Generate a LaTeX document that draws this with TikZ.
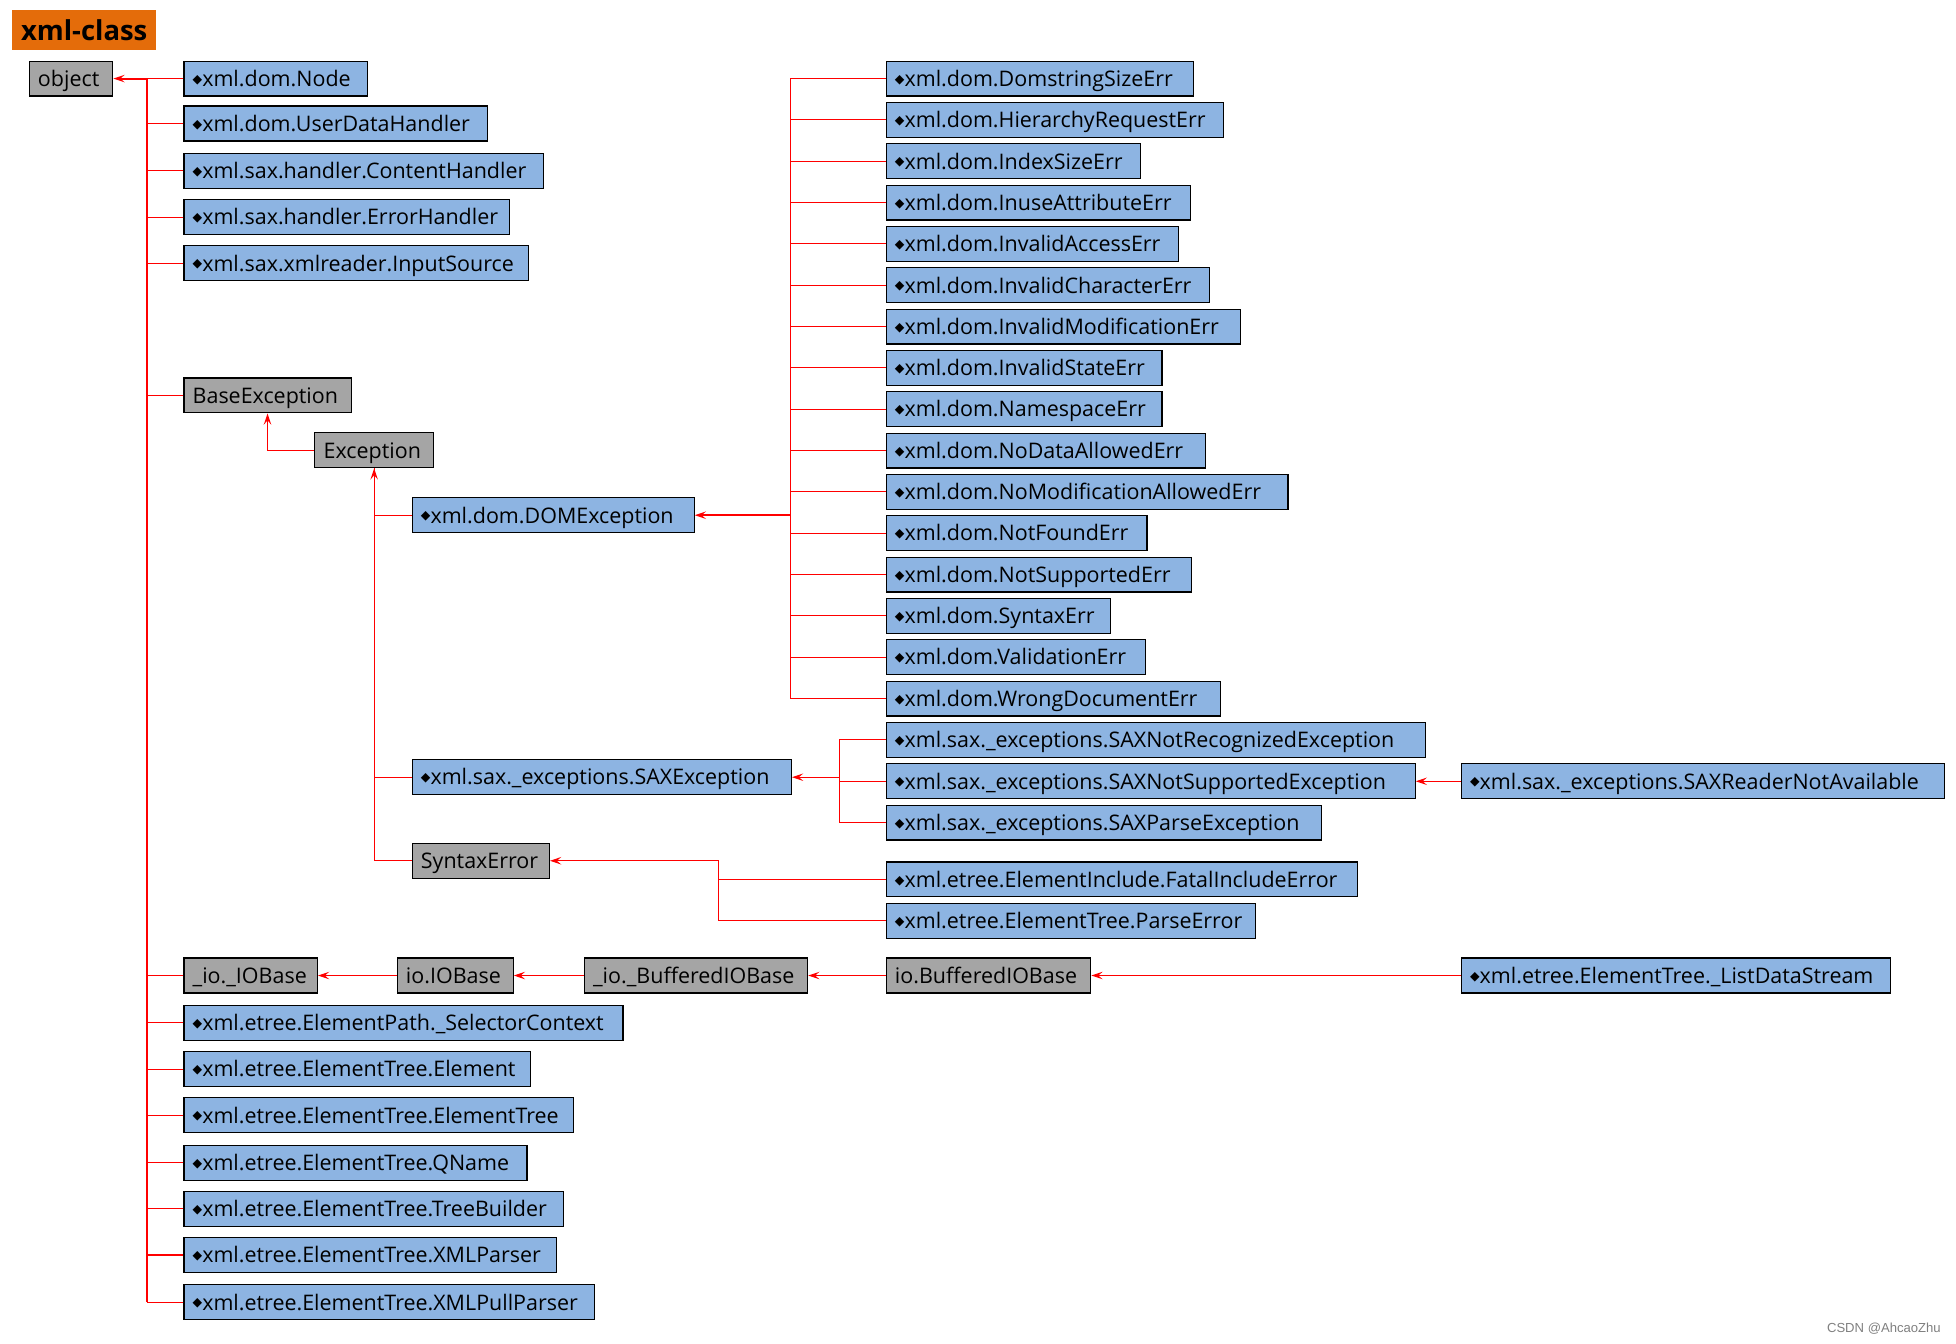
\documentclass[tikz,border=0pt]{standalone}
\usepackage{fontspec}
\usetikzlibrary{arrows.meta}
\newfontfamily\boxfont{Open Sans}
\newfontfamily\symfont{DejaVu Sans}
\newfontfamily\wmfont{Liberation Sans}
\definecolor{boxblue}{HTML}{8DB4E2}
\definecolor{boxgray}{HTML}{A5A5A5}
\definecolor{titleorange}{HTML}{E46C0A}
\definecolor{lnred}{HTML}{FF0000}
\newcommand\dia{{\symfont\fontsize{10}{10}\selectfont\raisebox{2.6pt}{◆}}}
\tikzset{
  boxbase/.style={draw=black, line width=0.9pt, anchor=west, minimum height=28pt,
    inner xsep=7pt, inner ysep=0pt, align=left, text height=14pt, text depth=1.5pt,
    font=\boxfont\fontsize{17.2}{21}\selectfont},
  bb/.style={boxbase, fill=boxblue},
  gb/.style={boxbase, fill=boxgray},
  conn/.style={draw=lnred, line width=0.9pt},
  arr/.style={conn, -{Stealth[length=9pt,width=6pt,inset=3.5pt]}},
  thickarr/.style={arr, line width=1.5pt},
}
\newcommand\BB[5]{\pgfmathsetmacro\tw{#4-14}\node[bb, text width=\tw pt] (#1) at (#2,#3) {\dia#5};}
\newcommand\GB[5]{\pgfmathsetmacro\tw{#4-14}\node[gb, text width=\tw pt] (#1) at (#2,#3) {#5};}
\begin{document}
\begin{tikzpicture}[x=1pt,y=-1pt]
\useasboundingbox (0,0) rectangle (1568,1077);
\fill[white] (0,0) rectangle (1568,1077);
% title
\node[fill=titleorange, minimum width=115pt, minimum height=32pt, inner sep=0pt,
  font=\boxfont\bfseries\fontsize{22}{25}\selectfont] (title) at (67.5,24) {xml-class};
% root
\GB{object}{23}{63}{67}{object}
% left column
\BB{node}{147}{63}{147}{xml.dom.Node}
\BB{udh}{147}{99}{243}{xml.dom.UserDataHandler}
\BB{ch}{147}{137}{288}{xml.sax.handler.ContentHandler}
\BB{eh}{147}{174}{261}{xml.sax.handler.ErrorHandler}
\BB{is}{147}{211}{276}{xml.sax.xmlreader.InputSource}
\GB{base}{147}{317}{134}{BaseException}
\GB{exc}{252}{361}{95}{Exception}
\BB{dome}{330}{413}{226}{xml.dom.DOMException}
\BB{saxe}{330}{623}{304}{xml.sax.\_exceptions.SAXException}
\GB{synerr}{330}{690}{110}{SyntaxError}
\GB{iobA}{147}{782}{107}{\_io.\_IOBase}
\GB{iobB}{318}{782}{93}{io.IOBase}
\GB{bioA}{468}{782}{179}{\_io.\_BufferedIOBase}
\GB{bioB}{710}{782}{164}{io.BufferedIOBase}
\BB{lds}{1171}{782}{344}{xml.etree.ElementTree.\_ListDataStream}
\BB{sel}{147}{820}{352}{xml.etree.ElementPath.\_SelectorContext}
\BB{el}{147}{857}{278}{xml.etree.ElementTree.Element}
\BB{et}{147}{894}{312}{xml.etree.ElementTree.ElementTree}
\BB{qn}{147}{932}{275}{xml.etree.ElementTree.QName}
\BB{tb}{147}{969}{304}{xml.etree.ElementTree.TreeBuilder}
\BB{xp}{147}{1006}{299}{xml.etree.ElementTree.XMLParser}
\BB{xpp}{147}{1044}{329}{xml.etree.ElementTree.XMLPullParser}
% right column: DOM errors
\BB{eA}{710}{63}{246}{xml.dom.DomstringSizeErr}
\BB{eB}{710}{96.1}{270}{xml.dom.HierarchyRequestErr}
\BB{eC}{710}{129.3}{204}{xml.dom.IndexSizeErr}
\BB{eD}{710}{162.4}{244}{xml.dom.InuseAttributeErr}
\BB{eE}{710}{195.5}{234}{xml.dom.InvalidAccessErr}
\BB{eF}{710}{228.7}{259}{xml.dom.InvalidCharacterErr}
\BB{eG}{710}{261.8}{284}{xml.dom.InvalidModificationErr}
\BB{eH}{710}{294.9}{221}{xml.dom.InvalidStateErr}
\BB{eI}{710}{328}{221}{xml.dom.NamespaceErr}
\BB{eJ}{710}{361.2}{256}{xml.dom.NoDataAllowedErr}
\BB{eK}{710}{394.3}{322}{xml.dom.NoModificationAllowedErr}
\BB{eL}{710}{427.4}{209}{xml.dom.NotFoundErr}
\BB{eM}{710}{460.6}{245}{xml.dom.NotSupportedErr}
\BB{eN}{710}{493.7}{180}{xml.dom.SyntaxErr}
\BB{eO}{710}{526.8}{208}{xml.dom.ValidationErr}
\BB{eP}{710}{560}{268}{xml.dom.WrongDocumentErr}
% SAX
\BB{sA}{710}{593.1}{432}{xml.sax.\_exceptions.SAXNotRecognizedException}
\BB{sB}{710}{626.3}{424}{xml.sax.\_exceptions.SAXNotSupportedException}
\BB{sC}{710}{659.4}{349}{xml.sax.\_exceptions.SAXParseException}
\BB{snra}{1171}{626.3}{387}{xml.sax.\_exceptions.SAXReaderNotAvailable}
% SyntaxError children
\BB{fA}{710}{705}{378}{xml.etree.ElementInclude.FatalIncludeError}
\BB{fB}{710}{738}{296}{xml.etree.ElementTree.ParseError}
% watermark
\node[anchor=east, text=gray, inner sep=0pt, font=\wmfont\fontsize{10.5}{12}\selectfont] (wm) at (1556,1065) {CSDN @AhcaoZhu};
% ---- connectors ----
\coordinate (ob) at (118,63);
\coordinate (obend) at (xpp.west -| ob);
\draw[thickarr] (ob) -- (object.east);
\draw[conn, line width=1.4pt] (ob) -- (obend);
\foreach \n in {node,udh,ch,eh,is,base,iobA,sel,el,et,qn,tb,xp,xpp}
  \draw[conn] (\n.west) -| (ob);
\draw[arr] (exc.west) -| (base.south);
\foreach \n in {dome,saxe} \draw[conn] (\n.west) -| (exc.south);
\draw[arr] (synerr.west) -| (exc.south);
\coordinate (db) at (634,413);
\draw[thickarr] (db) -- (dome.east);
\foreach \n in {eA,eB,eC,eD,eE,eF,eG,eH,eI,eJ,eK,eL,eM,eN,eO,eP}
  \draw[conn] (\n.west) -| (db);
\coordinate (sb) at (673,623);
\draw[arr] (sb) -- (saxe.east);
\foreach \n in {sA,sB,sC} \draw[conn] (\n.west) -| (sb);
\draw[arr] (snra.west) -- (sB.east);
\coordinate (syb) at (576,690);
\draw[arr] (syb) -- (synerr.east);
\foreach \n in {fA,fB} \draw[conn] (\n.west) -| (syb);
\draw[arr] (iobB.west) -- (iobA.east);
\draw[arr] (bioA.west) -- (iobB.east);
\draw[arr] (bioB.west) -- (bioA.east);
\draw[arr] (lds.west) -- (bioB.east);
\end{tikzpicture}
\end{document}
